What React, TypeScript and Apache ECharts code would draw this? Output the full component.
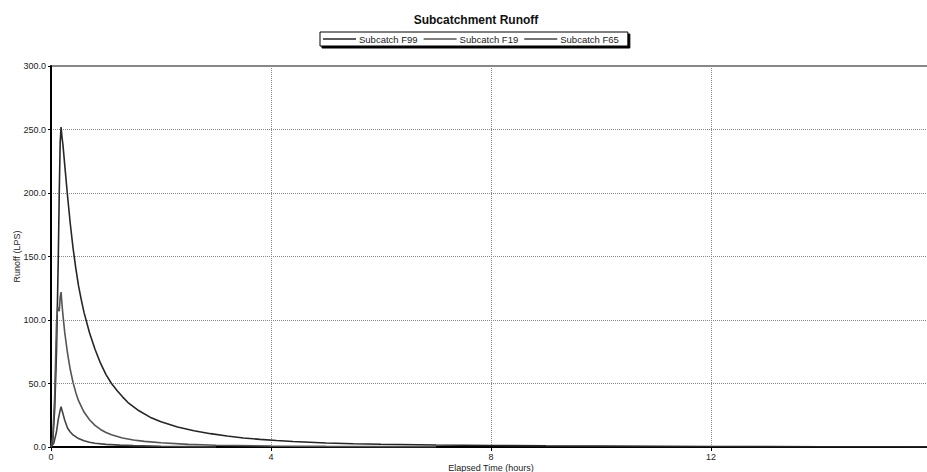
import React, { useEffect, useRef } from "react";
import * as echarts from "echarts";

const f99Time = [0, 0.033, 0.067, 0.1, 0.133, 0.15, 0.167, 0.183, 0.2, 0.217, 0.25, 0.3, 0.35, 0.4, 0.45, 0.5, 0.55, 0.6, 0.7, 0.8, 0.9, 1.0, 1.1, 1.2, 1.3, 1.4, 1.6, 1.8, 2.0, 2.3, 2.6, 2.9, 3.2, 3.5, 3.8, 4.1, 4.4, 5, 5.5, 6, 7, 8, 9, 10, 11, 12, 13, 14, 15, 16];
const f99Flow = [0, 5, 30, 75, 150, 200, 240, 252, 244, 238, 222, 198, 176, 157, 141, 127, 116, 106, 90, 77, 66, 57, 50, 44.5, 39.5, 35, 28.5, 23.5, 19.8, 15.8, 12.8, 10.5, 8.6, 7.1, 6, 5.1, 4.3, 3.2, 2.6, 2.2, 1.6, 1.2, 0.9, 0.7, 0.5, 0.4, 0.3, 0.2, 0.15, 0.1];

const f19Time = [0, 0.033, 0.067, 0.1, 0.12, 0.15, 0.167, 0.183, 0.2, 0.217, 0.25, 0.3, 0.35, 0.4, 0.45, 0.5, 0.6, 0.7, 0.8, 0.9, 1.0, 1.1, 1.3, 1.5, 1.7, 2.0, 2.5, 3, 4, 5, 6, 7];
const f19Flow = [0, 8, 40, 97, 110, 107, 118, 122, 112, 104, 90, 74, 61, 51, 43, 36.5, 27.5, 21.5, 17, 13.8, 11.4, 9.6, 7.1, 5.5, 4.4, 3.3, 2.1, 1.4, 0.8, 0.5, 0.3, 0.2];

const f65Time = [0, 0.05, 0.1, 0.133, 0.167, 0.183, 0.2, 0.25, 0.3, 0.35, 0.4, 0.5, 0.6, 0.7, 0.8, 1.0, 1.25, 1.5, 2.0, 2.5, 3.0];
const f65Flow = [0, 3, 12, 22, 29, 31.7, 29, 21, 15, 11.8, 9.5, 6.6, 4.9, 3.8, 3.0, 2.1, 1.5, 1.1, 0.6, 0.3, 0];

const seriesNames = ["Subcatch F99", "Subcatch F19", "Subcatch F65"];
const seriesColors = ["#262626", "#555555", "#444444"];

const zip = (t: number[], v: number[]) => t.map((x, i) => [x, v[i]]);

export default function App() {
  const ref = useRef<HTMLDivElement>(null);
  useEffect(() => {
    if (!ref.current) return;
    const chart = echarts.init(ref.current, null, { renderer: "svg" });
    const font = "'Liberation Sans', Arial, sans-serif";
    const data = [zip(f99Time, f99Flow), zip(f19Time, f19Flow), zip(f65Time, f65Flow)];
    chart.setOption({
      animation: false,
      backgroundColor: "#fff",
      textStyle: { fontFamily: font },
      title: {
        text: "Subcatchment Runoff",
        left: 471,
        textAlign: "center",
        top: 9,
        textStyle: { fontSize: 12, fontWeight: "bold", color: "#111", fontFamily: font },
      },
      legend: {
        left: 320,
        top: 32,
        itemWidth: 33,
        itemHeight: 1.5,
        itemGap: 6,
        icon: "rect",
        padding: [2, 9, 2, 3],
        borderColor: "#000",
        borderWidth: 1,
        backgroundColor: "#fff",
        shadowColor: "#000",
        shadowBlur: 0,
        shadowOffsetX: 2,
        shadowOffsetY: 2,
        textStyle: { fontSize: 9.5, color: "#222", fontFamily: font, padding: [0, 0, 0, -2] },
        data: seriesNames,
      },
      grid: {
        left: 51,
        right: 0,
        top: 66,
        bottom: 25,
        containLabel: false,
        outerBoundsMode: "none",
        show: true,
        borderColor: "#111",
        borderWidth: 1,
      },
      xAxis: {
        type: "value",
        min: 0,
        max: 16,
        interval: 4,
        name: "Elapsed Time (hours)",
        nameLocation: "middle",
        nameGap: 16,
        nameMoveOverlap: false,
        nameTextStyle: { fontSize: 9, color: "#222", fontFamily: font },
        axisLine: { lineStyle: { color: "#000", width: 2 } },
        axisTick: { show: true, length: 4, lineStyle: { color: "#000" } },
        axisLabel: { fontSize: 9, color: "#222", margin: 5, fontFamily: font, formatter: (v: number) => (v >= 16 ? "" : String(v)) },
        splitLine: { show: true, lineStyle: { color: "#888", type: [1, 1], width: 1 } },
      },
      yAxis: {
        type: "value",
        min: 0,
        max: 300,
        interval: 50,
        name: "Runoff (LPS)",
        nameLocation: "middle",
        nameGap: 30,
        nameMoveOverlap: false,
        nameTextStyle: { fontSize: 9, color: "#222", fontFamily: font },
        axisLine: { show: true, lineStyle: { color: "#000", width: 2 } },
        axisTick: { show: true, length: 3, lineStyle: { color: "#000" } },
        axisLabel: { fontSize: 9, color: "#222", margin: 5, fontFamily: font, formatter: (v: number) => v.toFixed(1) },
        splitLine: { show: true, lineStyle: { color: "#888", type: [1, 1], width: 1 } },
      },
      series: seriesNames.map((n, i) => ({
        name: n,
        type: "line",
        data: data[i],
        showSymbol: false,
        symbol: "none",
        smooth: false,
        lineStyle: { color: seriesColors[i], width: 1.6 },
        itemStyle: { color: seriesColors[i] },
      })),
    });
    return () => chart.dispose();
  }, []);
  return (
    <div style={{ position: "fixed", left: 0, top: 0, width: 927, height: 472, overflow: "hidden", background: "#fff" }}>
      <div ref={ref} style={{ width: 931, height: 472 }} />
    </div>
  );
}
